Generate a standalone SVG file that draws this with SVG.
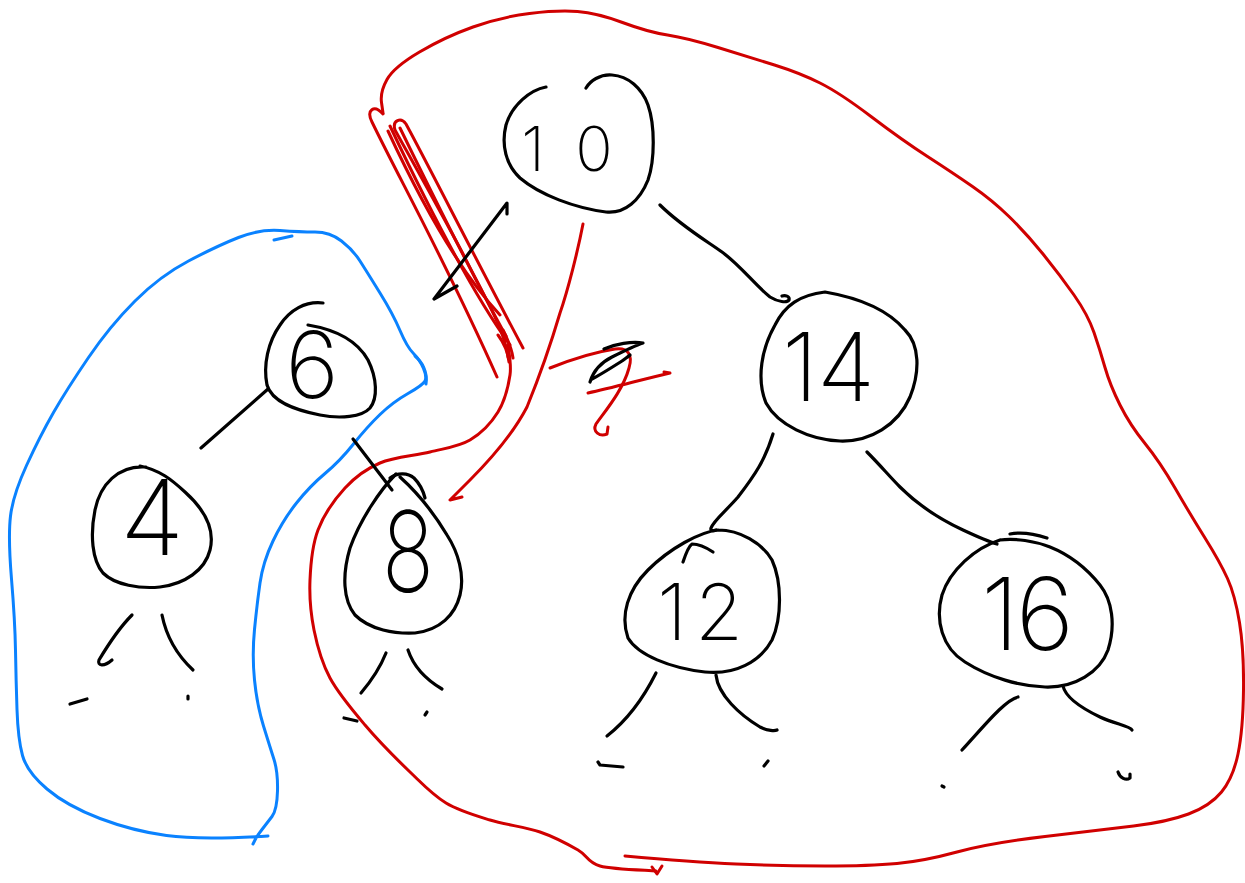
<svg xmlns="http://www.w3.org/2000/svg" width="1245" height="883" viewBox="0 0 1245 883">
<style>
.ink{fill:none;stroke:#000;stroke-width:3.2;stroke-linecap:round;stroke-linejoin:round}
.red{fill:none;stroke:#d00000;stroke-width:3;stroke-linecap:round;stroke-linejoin:round}
.blue{fill:none;stroke:#0a82ff;stroke-width:3;stroke-linecap:round;stroke-linejoin:round}
.num{font-family:Inter,"DejaVu Sans","Liberation Sans",sans-serif;font-weight:200;fill:#000;text-anchor:middle}
</style>
<rect width="1245" height="883" fill="#fff"/>

<g id="annotations">
  <path class="blue" d="M268,836 Q200,840 166.5,835.5 Q133,831 100,818.5 Q67,806 47,789 Q27,772 22.5,755.5 Q18,739 17,709.5 Q16,680 15.5,650.5 Q15,621 11.5,579 Q8,537 10.5,516 Q13,495 26.5,465.5 Q40,436 53.5,412.5 Q67,389 88.5,357.5 Q110,326 135,301 Q160,276 188.5,261 Q217,246 238.5,237.5 Q260,229 280,230.5 Q300,232 315,232 Q330,232 341.5,241 Q353,250 360,261 Q367,272 380,293 Q393,314 400,330.5 Q407,347 413.5,353.5 Q420,360 423.5,368.5 Q427,377 425,381 Q423,385 408,393.5 Q393,402 380,414.5 Q367,427 353.5,444 Q340,461 325,473.5 Q310,486 296.5,503 Q283,520 273,541 Q263,562 260,583 Q257,604 254.5,629.5 Q252,655 254.5,680 Q257,705 263.5,726 Q270,747 274,759.5 Q278,772 277.5,791 Q277,810 272,816.5 Q267,823 262,829.5 Q257,836 255,840 L253,844"/>
  <path class="blue" d="M274,240 L292,236" stroke-width="4"/>
  <path class="blue" d="M415,356 C422,362 428,372 426,384" stroke-width="2"/>

  <path class="red" d="M625,856 Q692,862 736,864 Q780,866 825,866 Q870,866 897,863.5 Q924,861 957,852 Q990,843 1045,836.5 Q1100,830 1133.5,826 Q1167,822 1188.5,814 Q1210,806 1221.5,792 Q1233,778 1238,754 Q1243,730 1243.5,690 Q1244,650 1239.5,622.5 Q1235,595 1227.5,578.5 Q1220,562 1205,538 Q1190,514 1175,488 Q1160,462 1145,443.5 Q1130,425 1120,405 Q1110,385 1105,367.5 Q1100,350 1094,332.5 Q1088,315 1074,295 Q1060,275 1043,254 Q1026,233 1009,216.5 Q992,200 972.5,186.5 Q953,173 927.5,156.5 Q902,140 871,116.5 Q840,93 820,83 Q800,73 774.5,65 Q749,57 718,47.5 Q687,38 667.5,35 Q648,32 622.5,22.5 Q597,13 577.5,11.5 Q558,10 529.5,13.5 Q501,17 473,27 Q445,37 419.5,52 Q394,67 387,79.5 Q380,92 381.5,102.5 L383,113"/>
  <path class="red" d="M508,345 C508.3,350 511.7,363.8 510,375 C508.3,386.2 504.7,401.2 498,412 C491.3,422.8 481.3,433.3 470,440 C458.7,446.7 445,448.2 430,452 C415,455.8 394.2,457 380,463 C365.8,469 355.3,476.8 345,488 C334.7,499.2 323.8,514.7 318,530 C312.2,545.3 310.7,563.3 310,580 C309.3,596.7 310.7,613.7 314,630 C317.3,646.3 321.5,662.2 330,678 C338.5,693.8 351.7,709.3 365,725 C378.3,740.7 396.5,759 410,772 C423.5,785 432.7,795 446,803 C459.3,811 474.3,815.2 490,820 C505.7,824.8 525.3,827 540,832 C554.7,837 568,844.3 578,850 C588,855.7 587,862.5 600,866 C613,869.5 646.7,870.2 656,871"/>
  <path class="red" d="M652,867 L657,874 L662,866" stroke-width="2.5"/>

  <g id="scribble">
    <path class="red" d="M383,114 C374,104 366,110 372,122 C400,180 445,260 497,377"/>
    <path class="red" d="M508,357 C505,330 482,292 462,252 C432,196 406,150 395,130 C392,120 401,117 406,124 C432,172 472,252 523,348"/>
    <path class="red" d="M388,131 C420,200 460,272 500,315" stroke-width="1"/>
    <path class="red" d="M390,126 C425,200 470,290 510,345" stroke-width="2"/>
    <path class="red" d="M400,128 C440,210 475,280 506,336" stroke-width="1.5"/>
    <path class="red" d="M503,330 C508,340 512,350 513,358 M498,335 C504,343 508,352 509,362" stroke-width="2"/>
  </g>

  <path class="red" d="M583,224 C578,250 568,290 560,313 C552,340 540,375 527,407 C515,430 495,455 470,480 C460,490 452,498 450,500 L462,497" stroke-width="2"/>

  <g id="question-mark">
    <path class="red" d="M550,368 C570,360 595,352 615,349 C628,347 633,355 629,368 C623,390 606,410 596,424 C592,432 600,437 607,434 L608,427"/>
    <path class="red" d="M588,393 C612,388 640,380 670,373 L664,372"/>
    <path class="ink" d="M590,382 C593,372 600,363 612,357 C622,352 634,346 643,343 C632,341 615,344 604,349 M592,379 C600,375 611,368 622,361 C626,358 629,356 630,355" stroke-width="2.5"/>
  </g>
</g>

<g id="connectors">
  <path class="ink" d="M507,214 L507,203 L434,299 L457,286"/>
  <path class="ink" d="M660,205 C680,225 705,240 722,252 C740,265 755,285 770,297 C778,302 787,303 789,300 C790,296 785,295 782,296"/>
  <path class="ink" d="M268,389 L201,448"/>
  <path class="ink" d="M353,439 L392,490"/>
  <path class="ink" d="M773,434 C765,460 755,475 738,497 C725,512 714,520 711,528 C710,531 714,531 716,530"/>
  <path class="ink" d="M867,452 C880,465 890,477 900,487 C915,502 935,517 963,530 C978,537 990,542 997,544"/>
  <path class="ink" d="M132,615 C122,625 108,645 99,660 C97,666 104,667 112,660"/>
  <path class="ink" d="M162,615 C166,635 177,655 193,670"/>
  <path class="ink" d="M70,704 L87,699"/>
  <path class="ink" d="M188,696 L188,699"/>
  <path class="ink" d="M386,653 C380,668 372,680 361,693"/>
  <path class="ink" d="M408,650 C412,662 420,676 442,689"/>
  <path class="ink" d="M344,718 L357,721"/>
  <path class="ink" d="M427,712 L425,715"/>
  <path class="ink" d="M656,673 C645,695 630,718 607,736"/>
  <path class="ink" d="M716,675 C718,695 740,715 760,727 C768,731 775,731 777,730"/>
  <path class="ink" d="M598,762 L600,765 L623,767"/>
  <path class="ink" d="M768,761 L764,766"/>
  <path class="ink" d="M1018,697 C1005,700 985,725 962,750"/>
  <path class="ink" d="M1063,686 C1065,695 1075,705 1100,717 C1115,724 1130,726 1132,730"/>
  <path class="ink" d="M942,786 L944,787"/>
  <path class="ink" d="M1118,772 C1120,778 1126,781 1130,778 L1130,774"/>
</g>

<g id="node-10">
  <path class="ink" d="M546,87 C530,90 512,105 506,125 C501,145 506,165 520,178 C540,195 575,208 606,212 C625,214 640,200 648,180 C655,160 655,125 648,105 C642,88 628,76 612,75 C600,74 590,81 586,88"/>
  <text class="num" x="533 594" y="171" font-size="62">10</text>
</g>
<g id="node-6">
  <path class="ink" d="M323,303 C305,301 290,310 280,325 C268,342 263,365 267,385 C272,402 295,410 320,415 C340,419 362,417 370,408 C378,398 377,378 368,360 C358,342 338,330 308,325"/>
  <text class="num" x="312" y="398" font-size="92">6</text>
</g>
<g id="node-4">
  <path class="ink" d="M146,467 C118,465 100,485 95,510 C90,535 92,560 103,573 C115,585 140,589 160,587 C185,584 205,570 210,550 C215,530 205,510 185,492 C172,480 160,470 140,466"/>
  <text class="num" x="152" y="555" font-size="105">4</text>
</g>
<g id="node-8">
  <path class="ink" d="M396,474 C380,490 360,520 350,548 C342,575 343,600 355,615 C370,630 395,634 415,633 C440,630 455,615 460,595 C465,575 458,552 447,535 C435,515 420,495 400,477"/>
  <path class="ink" d="M390,478 C398,472 408,473 414,478 C419,483 423,490 425,498" stroke-width="2.5"/>
  <text class="num" x="408" y="592" font-size="112" textLength="52" lengthAdjust="spacingAndGlyphs">8</text>
</g>
<g id="node-14">
  <path class="ink" d="M825,292 C800,295 785,305 775,325 C762,348 756,378 766,403 C778,425 810,440 840,441 C870,442 898,425 910,397 C920,372 920,345 905,330 C888,310 860,298 825,292"/>
  <text class="num" x="800 846" y="401" font-size="95">14</text>
</g>
<g id="node-12">
  <path class="ink" d="M718,530 C700,532 670,548 648,570 C628,590 620,615 628,638 C638,655 670,668 705,672 C735,675 760,662 772,640 C782,618 782,582 772,560 C762,543 740,530 718,530"/>
  <path class="ink" d="M683,562 C686,553 689,546 692,544 C700,544 707,548 713,552" stroke-width="2.5"/>
  <text class="num" x="672 719" y="640" font-size="78">12</text>
</g>
<g id="node-16">
  <path class="ink" d="M1000,540 C975,548 950,570 942,595 C935,620 942,648 965,662 C990,678 1020,686 1045,687 C1075,688 1100,672 1108,650 C1116,625 1112,600 1100,585 C1088,570 1070,555 1050,547 C1035,541 1015,538 1000,540"/>
  <path class="ink" d="M1010,534 C1020,532 1035,534 1047,538" stroke-width="2.5"/>
  <text class="num" x="1000 1045" y="650" font-size="100">16</text>
</g>
</svg>
